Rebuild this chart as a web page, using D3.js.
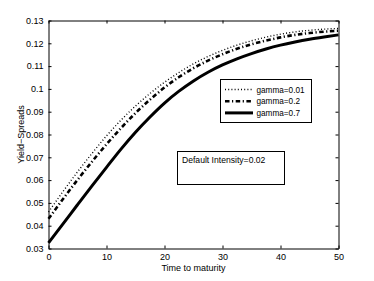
<!DOCTYPE html>
<html>
<head>
<meta charset="utf-8">
<script src="https://cdn.jsdelivr.net/npm/d3@7"></script>
<style>
  body { margin: 0; background: #fff; }
  svg { display: block; font-family: "Liberation Sans", Arial, sans-serif; }
  text { fill: #000; }
</style>
</head>
<body>
<svg width="374" height="281"></svg>
<script>

// time to maturity
var times = [0, 2.5, 5, 7.5, 10, 12.5, 15, 17.5, 20, 22.5, 25, 27.5, 30,
             32.5, 35, 37.5, 40, 42.5, 45, 47.5, 50];

// yield spreads
var gamma001 = [0.0460, 0.0550, 0.0636, 0.0717, 0.0794, 0.0863, 0.0925, 0.0980,
                0.1029, 0.1072, 0.1110, 0.1142, 0.1169, 0.1192, 0.1211, 0.1227,
                0.1240, 0.1250, 0.1257, 0.1262, 0.1265];
var gamma02 = [0.0430, 0.0517, 0.0601, 0.0681, 0.0757, 0.0828, 0.0894, 0.0953,
               0.1006, 0.1052, 0.1091, 0.1124, 0.1152, 0.1176, 0.1196, 0.1212,
               0.1226, 0.1237, 0.1245, 0.1251, 0.1255];
var gamma07 = [0.0325, 0.0408, 0.0492, 0.0575, 0.0656, 0.0736, 0.0810, 0.0877,
               0.0938, 0.0990, 0.1035, 0.1073, 0.1105, 0.1132, 0.1155, 0.1175,
               0.1192, 0.1206, 0.1218, 0.1228, 0.1237];

var seriesNames = ["gamma=0.01", "gamma=0.2", "gamma=0.7"];
var xTicks = [0, 10, 20, 30, 40, 50];
var yTicks = [0.03, 0.04, 0.05, 0.06, 0.07, 0.08, 0.09, 0.1, 0.11, 0.12, 0.13];

var svg = d3.select("svg");

// plot box edges
var pLeft = 48.5, pRight = 338.5, pTop = 20.5, pBottom = 248.5;

var x = d3.scaleLinear().domain([0, 50]).range([pLeft, pRight]);
var y = d3.scaleLinear().domain([0.03, 0.13]).range([pBottom, pTop]);

// line styles for each gamma
var styles = [
  {width: 1.4, dash: "1,2.2"},
  {width: 2.6, dash: "4.5,2.5,1.2,2.5"},
  {width: 3, dash: null}
];

var allSeries = [gamma001, gamma02, gamma07];

var line = d3.line()
    .x(function(d) { return x(d[0]); })
    .y(function(d) { return y(d[1]); })
    .curve(d3.curveMonotoneX);

var plot = svg.append("g");

// draw the three curves
allSeries.forEach(function(vals, i) {
  var pts = times.map(function(t, j) { return [t, vals[j]]; });
  plot.append("path")
    .datum(pts)
    .attr("d", line)
    .attr("fill", "none")
    .attr("stroke", "#000")
    .attr("stroke-width", styles[i].width)
    .attr("stroke-dasharray", styles[i].dash);
});

// axes, ticks inward on all four sides
var xAxisB = d3.axisBottom(x).tickValues(xTicks).tickSizeInner(-3).tickSizeOuter(0)
    .tickPadding(5).tickFormat(d3.format("d"));
var xAxisT = d3.axisTop(x).tickValues(xTicks).tickSizeInner(-3).tickSizeOuter(0)
    .tickFormat("");
var yAxisL = d3.axisLeft(y).tickValues(yTicks).tickSizeInner(-3).tickSizeOuter(0)
    .tickPadding(5).tickFormat(function(d) { return d3.format(".2~f")(d); });
var yAxisR = d3.axisRight(y).tickValues(yTicks).tickSizeInner(-3).tickSizeOuter(0)
    .tickFormat("");

svg.append("g").attr("transform", "translate(0," + pBottom + ")").call(xAxisB);
svg.append("g").attr("transform", "translate(0," + pTop + ")").call(xAxisT);
svg.append("g").attr("transform", "translate(" + pLeft + ",0)").call(yAxisL);
svg.append("g").attr("transform", "translate(" + pRight + ",0)").call(yAxisR);

svg.selectAll(".domain").attr("stroke", "#000");
svg.selectAll(".tick line").attr("stroke", "#000");
svg.selectAll(".tick text")
  .attr("font-size", 9)
  .attr("font-family", "Liberation Sans, Arial, sans-serif")
  .attr("fill", "#000");

// axis labels
svg.append("text")
  .attr("x", (pLeft + pRight) / 2)
  .attr("y", 271)
  .attr("text-anchor", "middle")
  .attr("font-size", 9)
  .text("Time to maturity");

svg.append("text")
  .attr("transform", "translate(24," + ((pTop + pBottom) / 2) + ") rotate(-90)")
  .attr("text-anchor", "middle")
  .attr("font-size", 9)
  .text("Yield\u2212Spreads");

// legend
var legend = svg.append("g");
legend.append("rect")
  .attr("x", 220.5).attr("y", 79.5)
  .attr("width", 91).attr("height", 43)
  .attr("fill", "#fff").attr("stroke", "#000").attr("stroke-width", 1);

seriesNames.forEach(function(name, i) {
  var ly = 89.5 + i * 11.7;
  legend.append("line")
    .attr("x1", 225).attr("x2", 253)
    .attr("y1", ly).attr("y2", ly)
    .attr("stroke", "#000")
    .attr("stroke-width", styles[i].width)
    .attr("stroke-dasharray", styles[i].dash);
  legend.append("text")
    .attr("x", 256.5)
    .attr("y", ly + 3)
    .attr("font-size", 8.2)
    .text(name);
});

// annotation box
svg.append("rect")
  .attr("x", 177.5).attr("y", 151.5)
  .attr("width", 107).attr("height", 33)
  .attr("fill", "#fff").attr("stroke", "#000").attr("stroke-width", 1);

svg.append("text")
  .attr("x", 182)
  .attr("y", 163)
  .attr("font-size", 8.6)
  .text("Default Intensity=0.02");

</script>
</body>
</html>
